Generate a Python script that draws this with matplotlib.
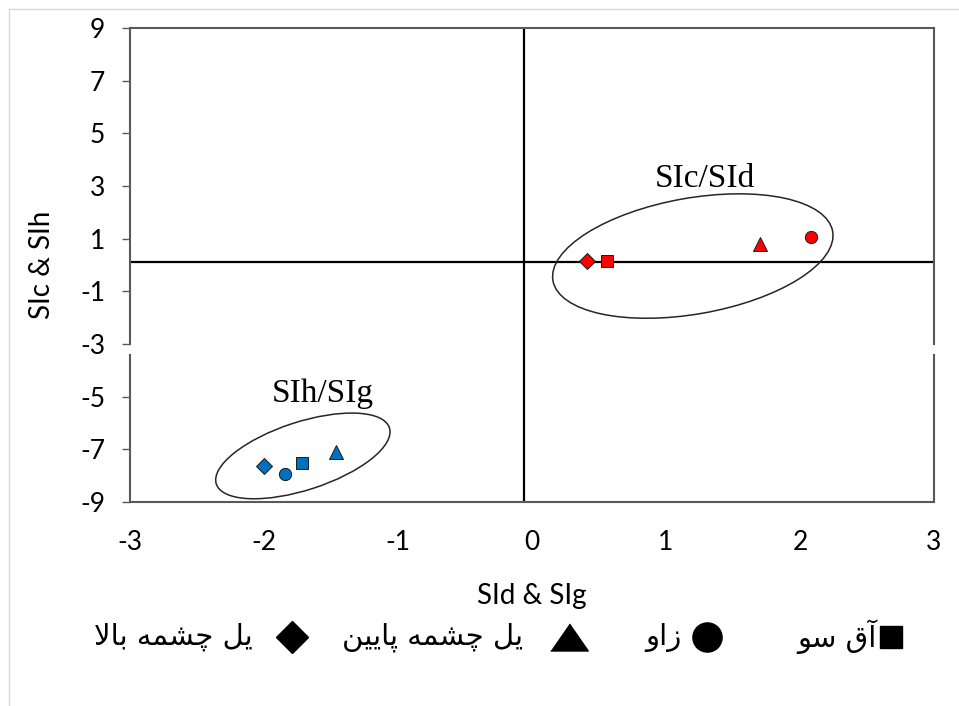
import matplotlib
matplotlib.use("Agg")
import matplotlib.pyplot as plt
import matplotlib.transforms as mtransforms
from matplotlib.lines import Line2D
from matplotlib.patches import Ellipse

plt.rcParams["font.family"] = ["Lato", "DejaVu Sans"]
plt.rcParams["axes.unicode_minus"] = False

# Site names (Persian, pre-shaped glyphs in visual order) and marker per site
SITE_LABELS = [
    "\uFEEE\uFEB3 \uFED5\uFE81",                                              # آق سو
    "\uFEED\uFE8D\uFEAF",                                                    # زاو
    "\uFEE6\uFBFF\uFBFE\uFE8E\uFB58 \uFEEA\uFEE4\uFEB8\uFB7C \uFEDE\uFBFE",  # یل چشمه پایین
    "\uFEFB\uFE8E\uFE91 \uFEEA\uFEE4\uFEB8\uFB7C \uFEDE\uFBFE",              # یل چشمه بالا
]
SITE_MARKERS = ["s", "o", "^", "D"]

# SIc vs SId (red) and SIh vs SIg (blue)
SIC_SID_X = [0.56, 2.08, 1.70, 0.41]
SIC_SID_Y = [0.15, 1.05, 0.80, 0.15]
SIH_SIG_X = [-1.72, -1.84, -1.46, -2.00]
SIH_SIG_Y = [-7.51, -7.95, -7.09, -7.63]

X_TICKS = [-3, -2, -1, 0, 1, 2, 3]
Y_TICKS = [-9, -7, -5, -3, -1, 1, 3, 5, 7, 9]

W, H = 959, 706
SPINE = "#595959"
RED = "#FF0000"
BLUE = "#0070C0"
MARKER_SIZES = {"s": 8.6, "o": 8.8, "^": 10.5, "D": 8.4}

fig = plt.figure(figsize=(W / 100, H / 100), dpi=100)
fig.patch.set_facecolor("white")
ax = fig.add_axes([130 / W, 1 - 502 / H, (934 - 130) / W, (502 - 28) / H])
ax.set_xlim(-3, 3)
ax.set_ylim(-9, 9)

# quadrant lines
ax.axhline(0.13, color="black", lw=1.6, zorder=2)
ax.axvline(-0.06, color="black", lw=1.6, zorder=2)


def group_ellipse(cx, cy, a_px, b_px, angle):
    # ellipse sized in pixels, anchored at a data point
    trans = fig.dpi_scale_trans + mtransforms.ScaledTranslation(cx, cy, ax.transData)
    e = Ellipse((0, 0), 2 * a_px / 100, 2 * b_px / 100, angle=angle,
                fill=False, edgecolor="#262626", lw=1.1, transform=trans, zorder=3)
    ax.add_patch(e)


group_ellipse(1.20, 0.34, 142, 58, 10)
group_ellipse(-1.71, -7.25, 91, 34, 18)

for i, m in enumerate(SITE_MARKERS):
    ax.plot(SIC_SID_X[i], SIC_SID_Y[i], marker=m, ms=MARKER_SIZES[m], color=RED,
            mec="#1a1a1a", mew=0.7, ls="none", zorder=4)
    ax.plot(SIH_SIG_X[i], SIH_SIG_Y[i], marker=m, ms=MARKER_SIZES[m], color=BLUE,
            mec="#1a1a1a", mew=0.7, ls="none", zorder=4)

ax.text(1.29, 3.28, "SIc/SId", fontsize=24, family="Liberation Serif",
        ha="center", va="center", zorder=5)
ax.text(-1.56, -4.88, "SIh/SIg", fontsize=24, family="Liberation Serif",
        ha="center", va="center", zorder=5)

# ticks and labels
ax.set_xticks(X_TICKS)
ax.set_yticks(Y_TICKS)
ax.tick_params(axis="x", length=0, pad=20, labelsize=19, labelcolor="black")
ax.tick_params(axis="y", direction="out", length=6, width=1, color=SPINE,
               pad=12, labelsize=19, labelcolor="black")
ax.set_xlabel("SId & SIg", fontsize=20, labelpad=20)
ax.set_ylabel("SIc & SIh", fontsize=20, labelpad=18)

# frame: top and bottom spines, side spines broken just below -3
for side in ("top", "bottom"):
    ax.spines[side].set_color(SPINE)
    ax.spines[side].set_linewidth(1.5)
ax.spines["left"].set_visible(False)
ax.spines["right"].set_visible(False)
gap_lo = (-3.42 + 9) / 18
gap_hi = (-3.0 + 9) / 18
for xa in (0, 1):
    for y0, y1 in ((0, gap_lo), (gap_hi, 1)):
        ax.add_line(Line2D([xa, xa], [y0, y1], transform=ax.transAxes,
                           color=SPINE, lw=1.5, clip_on=False, zorder=6))

# legend row, right-to-left
leg_y = 1 - 637 / H
text_right = [877, 682, 523, 253]
marker_x = [891, 707, 569, 292]
wide_tri = [(-1, -0.72), (1, -0.72), (0, 0.72)]
leg_markers = ["s", "o", wide_tri, "D"]
leg_sizes = [16, 21, 27, 16]
for i in range(len(SITE_LABELS)):
    fig.text(text_right[i] / W, leg_y, SITE_LABELS[i], ha="right", va="center",
             fontsize=21, family=["DejaVu Sans"])
    fig.add_artist(Line2D([marker_x[i] / W], [leg_y], marker=leg_markers[i],
                          ms=leg_sizes[i], color="black", ls="none",
                          transform=fig.transFigure))

# light outer border
fig.add_artist(Line2D([9 / W, 9 / W], [0, 1 - 9 / H], color="#d9d9d9", lw=1,
                      transform=fig.transFigure))
fig.add_artist(Line2D([9 / W, 1], [1 - 9 / H, 1 - 9 / H], color="#d9d9d9", lw=1,
                      transform=fig.transFigure))

fig.savefig("out.png", dpi=100)
